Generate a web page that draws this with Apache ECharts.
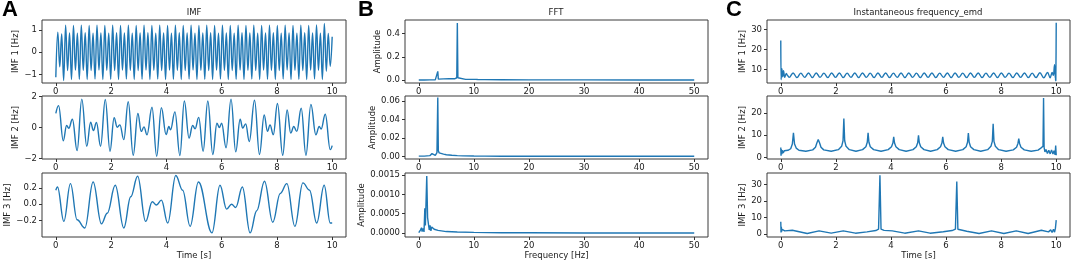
<!DOCTYPE html>
<html><head><meta charset="utf-8">
<script src="https://cdn.jsdelivr.net/npm/echarts@6/dist/echarts.min.js"></script>
<style>html,body{margin:0;padding:0;background:#fff}#c{width:1072px;height:261px}</style>
</head><body><div id="c"></div>
<script>
// ---------- DATA ----------
const timeTicks = [0, 2, 4, 6, 8, 10];
const freqTicks = [0, 10, 20, 30, 40, 50];

// IMF 1: extrema sampled on a uniform grid (10 s / 141 steps)
const imf1Step = 10 / 141;
const imf1Values = [-1.12, 0.90, -0.65, 0.82, -1.27,
 1.22,-0.82,0.87,-1.22, 1.21,-0.80,0.86,-1.21, 1.22,-0.81,0.88,-1.22, 1.20,-0.82,0.86,-1.20,
 1.22,-0.80,0.87,-1.22, 1.21,-0.81,0.86,-1.21, 1.22,-0.82,0.88,-1.22, 1.21,-0.80,0.87,-1.20,
 1.22,-0.81,0.86,-1.22, 1.20,-0.82,0.87,-1.21, 1.22,-0.80,0.88,-1.22, 1.21,-0.81,0.86,-1.20,
 1.22,-0.82,0.87,-1.22, 1.21,-0.80,0.86,-1.21, 1.22,-0.81,0.88,-1.22, 1.20,-0.82,0.87,-1.20,
 1.22,-0.80,0.86,-1.22, 1.21,-0.81,0.87,-1.21, 1.22,-0.82,0.88,-1.22, 1.21,-0.80,0.86,-1.20,
 1.22,-0.81,0.87,-1.22, 1.20,-0.82,0.86,-1.21, 1.22,-0.80,0.88,-1.22, 1.21,-0.81,0.87,-1.20,
 1.22,-0.82,0.86,-1.22, 1.21,-0.80,0.87,-1.21, 1.22,-0.81,0.88,-1.22, 1.20,-0.82,0.86,-1.20,
 1.22,-0.80,0.87,-1.22, 1.21,-0.81,0.86,-1.21, 1.22,-0.82,0.88,-1.22, 1.21,-0.80,0.87,-1.20,
 1.23,-0.81,0.86,-1.22,
 1.30, -0.85, 0.85, -0.63, 0.70];

// IMF 2: extrema (time s, value)
const imf2T = [0.00,0.10,0.27,0.39,0.47,0.60,0.77,0.94,1.12,1.26,1.36,1.47,1.62,1.79,1.96,2.11,2.22,2.32,2.46,2.62,
 2.80,2.97,3.09,3.19,3.30,3.48,3.65,3.82,3.99,4.09,4.15,4.31,4.49,4.65,4.82,4.95,5.04,5.17,5.33,5.50,
 5.68,5.83,5.92,6.00,6.16,6.34,6.51,6.67,6.76,6.87,7.00,7.19,7.37,7.54,7.66,7.75,7.87,8.02,8.21,8.37,
 8.50,8.61,8.72,8.88,9.05,9.23,9.41,9.53,9.60,9.75,9.93,10.00];
const imf2V = [0.90,1.40,-0.85,0.13,-0.05,0.53,-1.48,1.82,-1.20,0.34,-0.20,0.32,-1.20,1.80,-1.52,0.63,0.02,0.17,-0.78,1.65,
 -1.78,0.90,-0.25,0.04,-0.47,1.30,-1.84,1.27,-0.46,0.06,-0.15,1.00,-1.80,1.70,-0.68,0.13,-0.08,0.65,-1.52,1.70,
 -1.73,0.27,0.00,0.27,-1.30,1.82,-1.56,0.53,-0.04,0.23,-0.90,1.75,-1.73,0.80,-0.25,0.17,-0.46,1.54,-1.78,1.12,
 -0.36,0.06,-0.25,1.23,-1.78,1.48,-0.47,0.06,-0.10,0.85,-1.42,-1.16];

// IMF 3
const imf3T = [0.00,0.06,0.29,0.53,0.77,1.05,1.35,1.65,1.86,2.15,2.46,2.71,2.96,3.25,3.49,3.64,3.82,4.05,4.34,4.59,
 4.86,5.16,5.65,5.94,6.18,6.36,6.51,6.75,7.03,7.27,7.55,7.85,8.12,8.36,8.65,8.94,9.18,9.44,9.71,9.93,10.00];
const imf3V = [0.17,0.21,-0.21,0.25,-0.19,-0.29,0.27,-0.24,-0.11,0.23,-0.29,0.09,0.34,-0.21,0.03,-0.01,0.05,-0.23,0.35,0.17,
 -0.27,0.27,-0.35,0.23,-0.06,0.00,-0.04,0.21,-0.35,-0.08,0.28,-0.22,0.13,0.25,-0.27,0.26,0.17,-0.23,0.23,-0.23,-0.23];

// FFT spectra (frequency Hz, amplitude)
const fft1F = [0,1,2,3,3.35,3.45,3.55,3.7,4.5,5.5,6.5,6.9,7.0,7.1,7.3,8.5,10.3,10.5,10.7,12,15,20,30,40,50];
const fft1A = [0.001,0.001,0.0015,0.002,0.006,0.075,0.008,0.003,0.010,0.011,0.011,0.020,0.490,0.020,0.008,0.006,0.006,0.013,0.005,0.004,0.003,0.002,0.0015,0.001,0.001];
const fft2F = [0,1,2,2.3,2.4,2.6,3.0,3.3,3.45,3.55,3.7,4.0,4.5,5,6,7,8,10,12,15,20,30,40,50];
const fft2A = [0.0003,0.0003,0.0008,0.0025,0.003,0.0012,0.001,0.004,0.0636,0.006,0.0038,0.0034,0.0025,0.0018,0.0012,0.0008,0.0006,0.0004,0.0003,0.0002,0.0002,0.0001,0.0001,0.0001];
const fft3F = [0,0.3,0.5,0.6,0.8,0.95,1.1,1.2,1.45,1.6,1.75,1.9,2.05,2.2,2.35,2.5,2.8,3.5,5,7,10,15,20,30,40,50];
const fft3A = [0.00001,0.00008,0.00014,0.00004,0.00012,0.00003,0.00064,0.0002,0.00147,0.0004,0.00024,0.00008,0.0002,0.00006,0.00016,0.00012,0.0001,0.00007,0.00004,0.00003,0.00002,0.00001,0.00001,0.000005,0.000004,0.000003];

// Instantaneous frequency, IMF 1
const if1HeadT = [0,0.01,0.04,0.07,0.10,0.14,0.20,0.25];
const if1HeadV = [24.5,5.0,10.5,6.5,9.5,6.2,8.2,7.0];
const if1BodyStart = 0.307, if1BodyStep = 0.14;
const if1BodyV = [6.2,8.4, 6.1,8.3, 6.2,8.4, 6.1,8.4, 6.2,8.3,
 6.1,8.4, 6.2,8.4, 6.1,8.3, 6.2,8.4, 6.1,8.4,
 6.2,8.3, 6.1,8.4, 6.2,8.4, 6.1,8.3, 6.2,8.4,
 6.1,8.4, 6.2,8.3, 6.1,8.4, 6.2,8.4, 6.1,8.3,
 6.2,8.4, 6.1,8.4, 6.2,8.3, 6.1,8.4, 6.2,8.4,
 6.1,8.3, 6.2,8.4, 6.1,8.4, 6.2,8.3, 6.1,8.4,
 6.2,8.4, 6.1,8.3, 6.1,8.5, 6.0,8.6];
const if1TailT = [9.78,9.85,9.90,9.94,9.97,9.985,10.0];
const if1TailV = [6.0,8.6,7.2,12.5,5.5,4.5,33.3];

// Instantaneous frequency, IMF 2
const if2T = [0,0.01,0.02,0.04,0.06,0.09,0.13,0.18,0.26,0.36,0.42,0.46,0.50,0.56,0.66,0.91,
 1.16,1.26,1.31,1.36,1.41,1.46,1.56,1.83,
 2.09,2.21,2.26,2.29,2.32,2.37,2.49,2.73,
 2.97,3.09,3.14,3.17,3.20,3.25,3.37,3.64,
 3.90,4.02,4.07,4.10,4.13,4.18,4.30,4.55,
 4.80,4.92,4.97,5.00,5.03,5.08,5.20,5.44,
 5.68,5.80,5.85,5.88,5.91,5.96,6.08,6.35,
 6.61,6.73,6.78,6.81,6.84,6.89,7.01,7.26,
 7.51,7.63,7.68,7.71,7.74,7.79,7.91,8.18,
 8.44,8.56,8.61,8.64,8.67,8.72,8.84,9.09,
 9.34,9.44,9.49,9.52,9.54,9.56,9.59,9.63,9.68,9.73,9.78,9.83,9.88,9.92,9.96,9.98,10.0];
const if2V = [4.5,0.8,3.6,1.5,3.2,2.0,3.0,2.4,3.2,3.9,6.0,11.1,6.0,4.2,3.2,2.8,
 3.4,4.6,6.5,8.1,6.5,4.6,3.4,2.8,
 3.5,5.0,7.5,17.5,7.5,5.0,3.5,2.8,
 3.5,4.8,6.8,11.1,6.8,4.8,3.5,2.8,
 3.5,4.8,6.5,9.3,6.5,4.8,3.5,2.8,
 3.5,4.8,6.6,9.9,6.6,4.8,3.5,2.8,
 3.5,4.8,6.5,9.3,6.5,4.8,3.5,2.8,
 3.5,4.8,6.8,11.0,6.8,4.8,3.5,2.8,
 3.5,5.0,7.2,15.1,7.2,5.0,3.5,2.8,
 3.4,4.6,6.3,8.4,6.3,4.6,3.4,2.8,
 3.3,4.2,3.4,5.0,26.7,4.5,2.5,3.6,1.8,3.2,1.6,3.4,1.5,3.0,1.2,5.3,1.0];

// Instantaneous frequency, IMF 3
const if3T = [0,0.01,0.02,0.03,0.05,0.08,0.14,0.42,0.96,1.39,1.83,2.27,2.71,3.13,3.45,3.55,3.60,3.64,3.75,4.05,
 4.50,5.00,5.42,5.90,6.22,6.34,6.39,6.43,6.75,7.20,7.65,8.10,8.55,8.98,9.46,9.72,9.80,9.85,9.90,9.94,9.97,10.0];
const if3V = [7.5,1.0,4.5,1.5,3.0,1.8,2.0,2.4,0.4,2.0,0.6,2.0,0.6,1.4,2.2,3.0,35.5,3.0,2.3,2.0,
 0.6,2.0,0.6,1.5,2.2,3.0,31.8,3.0,1.8,0.4,2.0,0.4,2.0,0.4,2.4,1.4,2.6,1.0,3.0,1.2,3.5,8.5];

// ---------- BUILD ----------
function zip(t, v) { return t.map((x, i) => [x, v[i]]); }
const imf1Pts = imf1Values.map((v, i) => [i * imf1Step, v]);
const if1Pts = zip(if1HeadT, if1HeadV)
  .concat(if1BodyV.map((v, i) => [if1BodyStart + i * if1BodyStep, v]))
  .concat(zip(if1TailT, if1TailV));

const FONT = 'DejaVu Sans';
const FS = 8.5;
const TXT = '#1a1a1a';
const BLUE = '#1f77b4';

function fmt(d) {
  return function (v) {
    let s = (Math.abs(v) < 1e-12 ? 0 : v).toFixed(d);
    return s.replace('-', '\u2212');
  };
}

const colA = [42, 304], colB = [405, 303], colC = [767, 303];
const rows = [[20, 63], [96, 63], [173, 64]];

const panels = [
  {c: colA, r: 0, x: [-0.5, 10.5], xt: timeTicks, y: [-1.38, 1.45], yt: [-1, 0, 1], yd: 0, yn: 'IMF 1 [Hz]', yg: 19, data: imf1Pts, smooth: true},
  {c: colA, r: 1, x: [-0.5, 10.5], xt: timeTicks, y: [-2.02, 2.02], yt: [-2, 0, 2], yd: 0, yn: 'IMF 2 [Hz]', yg: 21, data: zip(imf2T, imf2V), smooth: true},
  {c: colA, r: 2, x: [-0.5, 10.5], xt: timeTicks, y: [-0.40, 0.38], yt: [-0.2, 0, 0.2], yd: 1, yn: 'IMF 3 [Hz]', yg: 24, data: zip(imf3T, imf3V), smooth: true, xn: 'Time [s]'},
  {c: colB, r: 0, x: [-2.5, 52.5], xt: freqTicks, y: [-0.025, 0.515], yt: [0, 0.2, 0.4], yd: 1, yn: 'Amplitude', yg: 20, data: zip(fft1F, fft1A)},
  {c: colB, r: 1, x: [-2.5, 52.5], xt: freqTicks, y: [-0.0028, 0.0652], yt: [0, 0.02, 0.04, 0.06], yd: 2, yn: 'Amplitude', yg: 25, data: zip(fft2F, fft2A)},
  {c: colB, r: 2, x: [-2.5, 52.5], xt: freqTicks, y: [-0.0001, 0.00155], yt: [0, 0.0005, 0.001, 0.0015], yd: 4, yn: 'Amplitude', yg: 35, data: zip(fft3F, fft3A), xn: 'Frequency [Hz]'},
  {c: colC, r: 0, x: [-0.5, 10.5], xt: timeTicks, y: [3.4, 34.7], yt: [10, 20, 30], yd: 0, yn: 'IMF 1 [Hz]', yg: 19, data: if1Pts, smooth: true},
  {c: colC, r: 1, x: [-0.5, 10.5], xt: timeTicks, y: [-0.7, 27.6], yt: [0, 10, 20], yd: 0, yn: 'IMF 2 [Hz]', yg: 19, data: zip(if2T, if2V)},
  {c: colC, r: 2, x: [-0.5, 10.5], xt: timeTicks, y: [-1.7, 36.9], yt: [0, 10, 20, 30], yd: 0, yn: 'IMF 3 [Hz]', yg: 19, data: zip(if3T, if3V), xn: 'Time [s]'}
];

const textStyle = {fontFamily: FONT, fontSize: FS, color: TXT};

const option = {
  animation: false,
  grid: panels.map(p => ({
    left: p.c[0], width: p.c[1], top: rows[p.r][0], height: rows[p.r][1],
    show: true, borderColor: '#3a3a3a', borderWidth: 1, backgroundColor: 'rgba(0,0,0,0)',
    containLabel: false, outerBoundsMode: 'none'
  })),
  xAxis: panels.map((p, i) => ({
    type: 'value', gridIndex: i, min: p.x[0], max: p.x[1], position: 'bottom',
    axisLine: {show: false, onZero: false},
    splitLine: {show: false},
    axisTick: {show: true, inside: false, length: 3, customValues: p.xt, lineStyle: {color: '#333', width: 1}},
    axisLabel: {show: true, margin: 4, customValues: p.xt, formatter: fmt(0), fontFamily: FONT, fontSize: FS, color: TXT},
    name: p.xn || '', nameLocation: 'middle', nameGap: 12,
    nameTextStyle: textStyle
  })),
  yAxis: panels.map((p, i) => ({
    type: 'value', gridIndex: i, min: p.y[0], max: p.y[1], position: 'left',
    axisLine: {show: false, onZero: false},
    splitLine: {show: false},
    axisTick: {show: true, inside: false, length: 3, customValues: p.yt, lineStyle: {color: '#333', width: 1}},
    axisLabel: {show: true, margin: 5, customValues: p.yt, formatter: fmt(p.yd), fontFamily: FONT, fontSize: FS, color: TXT},
    name: p.yn, nameLocation: 'middle', nameGap: p.yg, nameRotate: 90,
    nameTextStyle: textStyle
  })),
  series: panels.map((p, i) => ({
    type: 'line', xAxisIndex: i, yAxisIndex: i, data: p.data,
    showSymbol: false, symbol: 'none',
    smooth: p.smooth ? 0.4 : false, smoothMonotone: p.smooth ? 'x' : undefined,
    lineStyle: {color: BLUE, width: 1.4}, clip: true
  })),
  graphic: [
    {type: 'text', x: 2, y: -1, style: {text: 'A', font: 'bold 22px "Liberation Sans"', fill: '#000'}},
    {type: 'text', x: 358, y: -1, style: {text: 'B', font: 'bold 22px "Liberation Sans"', fill: '#000'}},
    {type: 'text', x: 726, y: -1, style: {text: 'C', font: 'bold 22px "Liberation Sans"', fill: '#000'}},
    {type: 'text', x: 194, y: 12.7, style: {text: 'IMF', align: 'center', verticalAlign: 'middle', textAlign: 'center', textVerticalAlign: 'middle', font: FS + 'px "' + FONT + '"', fill: TXT}},
    {type: 'text', x: 556, y: 12.7, style: {text: 'FFT', align: 'center', verticalAlign: 'middle', textAlign: 'center', textVerticalAlign: 'middle', font: FS + 'px "' + FONT + '"', fill: TXT}},
    {type: 'text', x: 918, y: 12.7, style: {text: 'Instantaneous frequency_emd', align: 'center', verticalAlign: 'middle', textAlign: 'center', textVerticalAlign: 'middle', font: FS + 'px "' + FONT + '"', fill: TXT}}
  ]
};

const chart = echarts.init(document.getElementById('c'), null, {renderer: 'canvas'});
chart.setOption(option);
</script>
</body></html>
